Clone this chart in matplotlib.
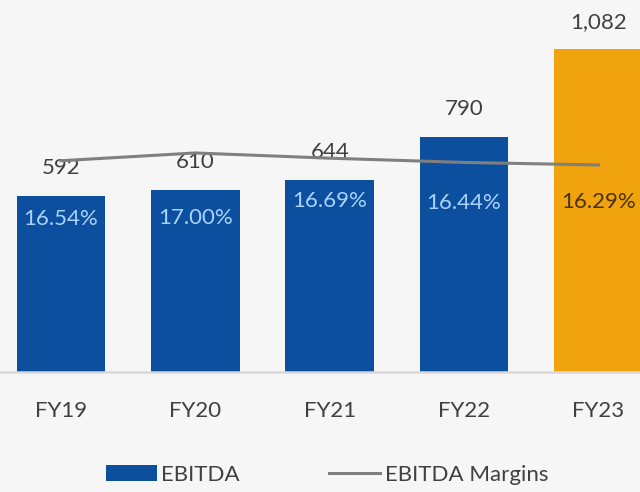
import matplotlib.pyplot as plt
from matplotlib.patches import Patch
from matplotlib.lines import Line2D

years = ['FY19', 'FY20', 'FY21', 'FY22', 'FY23']
ebitda = [592, 610, 644, 790, 1082]
margins = [16.54, 17.00, 16.69, 16.44, 16.29]
value_labels = ['592', '610', '644', '790', '1,082']

blue = '#0b4f9e'
orange = '#f0a30c'
gray_line = '#7f7f7f'
text_col = '#404040'
bg = '#f6f6f7'

# vertical offsets (points) of the margin labels below the line
pct_dy = [-42, -47, -31, -29, -27]

plt.rcParams['font.family'] = ['Lato', 'DejaVu Sans']

fig = plt.figure(figsize=(6.4, 4.92), dpi=100, facecolor=bg)
ax = fig.add_axes([0, 120 / 492, 1, 372 / 492])
ax.set_facecolor(bg)

x = list(range(len(years)))
colors = [blue] * 4 + [orange]
bars = ax.bar(x, ebitda, width=0.66, color=colors, zorder=2)

for xi, v, lab in zip(x, ebitda, value_labels):
    ax.annotate(lab, (xi, v), xytext=(0, 20), textcoords='offset points',
                ha='center', va='center', fontsize=16, color=text_col, zorder=5)

ax.set_xlim(-0.454, 4.31)
ax.set_ylim(0, 1248)
ax.set_xticks(x)
ax.set_xticklabels(years, fontsize=16, color=text_col)
ax.tick_params(axis='x', length=0, pad=21)
ax.set_yticks([])
for s in ['top', 'left', 'right']:
    ax.spines[s].set_visible(False)
ax.spines['bottom'].set_color('#d9d9d9')
ax.spines['bottom'].set_linewidth(1.8)

ax2 = ax.twinx()
ax2.set_ylim(4.04, 26.05)
ax2.plot(x, margins, color=gray_line, lw=2.2, zorder=3)
ax2.set_yticks([])
for s in ['top', 'left', 'right', 'bottom']:
    ax2.spines[s].set_visible(False)

pct_colors = ['#a9d3ff'] * 4 + ['#4a3300']
for xi, m, dy, c in zip(x, margins, pct_dy, pct_colors):
    ax2.annotate(f'{m:.2f}%', (xi, m), xytext=(0, dy), textcoords='offset points',
                 ha='center', va='center', fontsize=16, color=c)

handles = [Patch(facecolor=blue, edgecolor='none'),
           Line2D([0], [0], color=gray_line, lw=2.2)]
fig.legend(handles, ['EBITDA', 'EBITDA Margins'], loc='center',
           bbox_to_anchor=(327 / 640, 17 / 492), ncol=2, frameon=False,
           fontsize=16, handlelength=2.3, handletextpad=0.2,
           columnspacing=4.0, labelcolor=text_col)

fig.savefig('out.png', dpi=100, facecolor=bg)
